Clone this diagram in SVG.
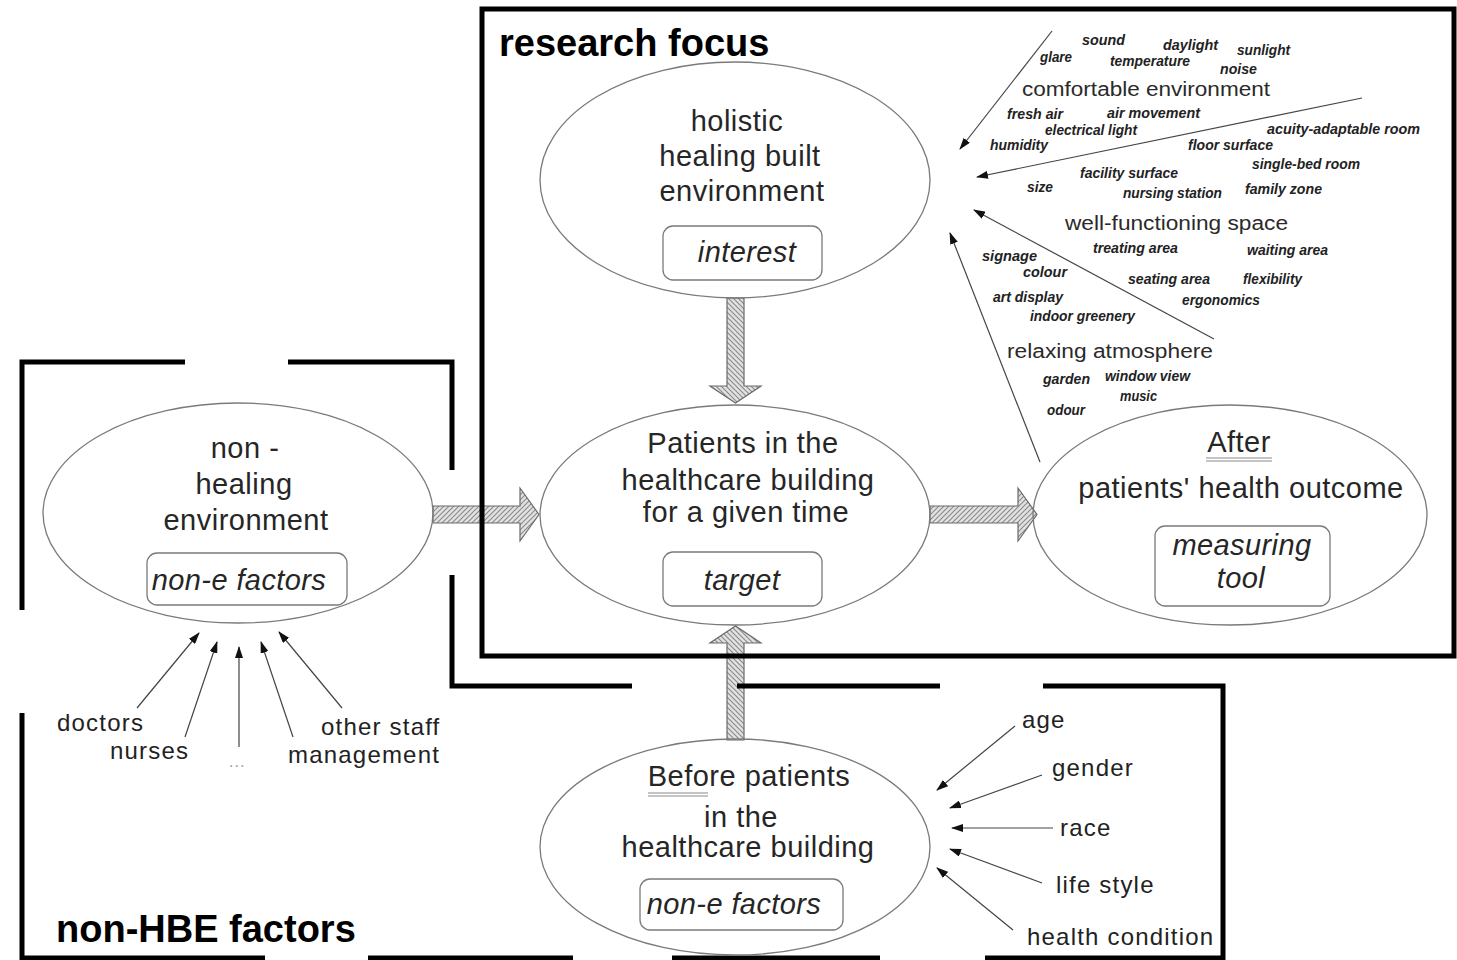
<svg xmlns="http://www.w3.org/2000/svg" width="1457" height="960" viewBox="0 0 1457 960">
  <defs>
    <style>
      text { font-family: "Liberation Sans", Arial, sans-serif; fill: #1c1c1c; }
      .t { font-size: 29px; letter-spacing: 0.5px; text-anchor: middle; fill: #262626; }
      .it { font-size: 29px; font-style: italic; letter-spacing: 0.4px; text-anchor: middle; fill: #262626; }
      .lb { font-size: 24px; letter-spacing: 1.2px; fill: #222; }
      .title { font-size: 38px; font-weight: bold; fill: #000; }
      .w { font-size: 14px; font-style: italic; font-weight: bold; fill: #222; }
      .big { font-size: 20px; fill: #2a2a2a; }
      .ell { fill: none; stroke: #7a7a7a; stroke-width: 1.3; }
      .box { fill: none; stroke: #7a7a7a; stroke-width: 1.3; }
      .frame { fill: none; stroke: #000; stroke-width: 5; }
      .thin { fill: none; stroke: #444; stroke-width: 1.2; marker-end: url(#head); }
      .block { stroke: #6a6a6a; stroke-width: 1.2; }
      .ul { stroke: #8a8a8a; stroke-width: 1.2; }
    </style>
    <marker id="head" viewBox="0 0 12 8" refX="11" refY="4" markerWidth="12" markerHeight="8" markerUnits="userSpaceOnUse" orient="auto">
      <path d="M0,0 L12,4 L0,8 z" fill="#111"/>
    </marker>
    <pattern id="hatchV" patternUnits="userSpaceOnUse" width="5" height="5">
      <rect width="5" height="5" fill="#e2e2e2"/>
      <path d="M-1,-1 L6,6 M-1,4 L1,6 M4,-1 L6,1" stroke="#8c8c8c" stroke-width="1.2"/>
    </pattern>
    <pattern id="hatchH" patternUnits="userSpaceOnUse" width="5" height="5">
      <rect width="5" height="5" fill="#e2e2e2"/>
      <path d="M-1,6 L6,-1 M-1,1 L1,-1 M4,6 L6,4" stroke="#8c8c8c" stroke-width="1.2"/>
    </pattern>
  </defs>

  <rect width="1457" height="960" fill="#fff"/>

  <!-- connectors: block arrows between the stages and thin factor arrows -->
  <g id="connectors">
    <polygon class="block" fill="url(#hatchV)" points="727,298 744,298 744,386 761,386 735.5,403 710,386 727,386"/>
    <polygon class="block" fill="url(#hatchV)" points="727,740 744,740 744,643 761,643 735.5,626 710,643 727,643"/>
    <polygon class="block" fill="url(#hatchH)" points="433,506 520,506 520,488 539,514.5 520,541 520,523 433,523"/>
    <polygon class="block" fill="url(#hatchH)" points="930,506 1018,506 1018,488 1037,514.5 1018,541 1018,523 930,523"/>

    <!-- staff influences -->
    <line class="thin" x1="137" y1="708" x2="199" y2="633"/>
    <line class="thin" x1="185" y1="737" x2="217" y2="642"/>
    <line class="thin" x1="239" y1="747" x2="239" y2="647"/>
    <line class="thin" x1="293" y1="737" x2="261" y2="642"/>
    <line class="thin" x1="342" y1="708" x2="279" y2="632"/>

    <!-- personal influences -->
    <line class="thin" x1="1015" y1="726" x2="937" y2="790"/>
    <line class="thin" x1="1042" y1="775" x2="950" y2="808"/>
    <line class="thin" x1="1053" y1="828" x2="952" y2="828"/>
    <line class="thin" x1="1042" y1="883" x2="950" y2="849"/>
    <line class="thin" x1="1013" y1="930" x2="937" y2="868"/>

    <!-- environment themes -->
    <line class="thin" x1="1052" y1="31" x2="960" y2="149"/>
    <line class="thin" x1="1362" y1="98" x2="977" y2="177"/>
    <line class="thin" x1="1214" y1="339" x2="974" y2="210"/>
    <line class="thin" x1="1040" y1="462" x2="950" y2="233"/>
  </g>

  <!-- frames -->
  <g id="frame-research">
    <rect class="frame" x="482" y="9" width="972" height="647"/>
    <text class="title" x="499" y="56">research focus</text>
  </g>
  <g id="frame-nonhbe">
    <path class="frame" d="M22,610 V362 H185 M288,362 H452 V470 M452,575 V686 H632 M737,686 H940 M1043,686 H1223 V958 H985 M880,958 H672 M573,958 H368 M265,958 H22 V713"/>
    <text class="title" x="56" y="942">non-HBE factors</text>
  </g>

  <!-- stage nodes -->
  <g id="node-hbe">
    <ellipse class="ell" cx="735" cy="180" rx="195" ry="118"/>
    <text class="t" x="737" y="131">holistic</text>
    <text class="t" x="740" y="166">healing built</text>
    <text class="t" x="742" y="201">environment</text>
    <rect class="box" x="663" y="226" width="159" height="54" rx="10"/>
    <text class="it" x="747" y="262">interest</text>
  </g>

  <g id="node-patients">
    <ellipse class="ell" cx="735" cy="515" rx="195" ry="110"/>
    <text class="t" x="743" y="453">Patients in the</text>
    <text class="t" x="748" y="490">healthcare building</text>
    <text class="t" x="746" y="522">for a given time</text>
    <rect class="box" x="663" y="552" width="159" height="54" rx="10"/>
    <text class="it" x="742" y="590">target</text>
  </g>

  <g id="node-after">
    <ellipse class="ell" cx="1230" cy="515" rx="197" ry="110"/>
    <text class="t" x="1239" y="452">After</text>
    <line class="ul" x1="1206" y1="458" x2="1272" y2="458"/>
    <line class="ul" x1="1206" y1="461" x2="1272" y2="461"/>
    <text class="t" x="1241" y="498">patients' health outcome</text>
    <rect class="box" x="1155" y="526" width="175" height="80" rx="10"/>
    <text class="it" x="1242" y="555">measuring</text>
    <text class="it" x="1241" y="588">tool</text>
  </g>

  <g id="node-nonhealing">
    <ellipse class="ell" cx="238" cy="513" rx="195" ry="110"/>
    <text class="t" x="245" y="458">non -</text>
    <text class="t" x="244" y="494">healing</text>
    <text class="t" x="246" y="530">environment</text>
    <rect class="box" x="147" y="553" width="200" height="52" rx="10"/>
    <text class="it" x="239" y="590">non-e factors</text>
  </g>

  <g id="node-before">
    <ellipse class="ell" cx="735" cy="847" rx="195" ry="108"/>
    <text class="t" x="749" y="786">Before patients</text>
    <line class="ul" x1="648" y1="793" x2="708" y2="793"/>
    <line class="ul" x1="648" y1="796" x2="708" y2="796"/>
    <text class="t" x="741" y="827">in the</text>
    <text class="t" x="748" y="857">healthcare building</text>
    <rect class="box" x="640" y="879" width="203" height="51" rx="10"/>
    <text class="it" x="734" y="914">non-e factors</text>
  </g>

  <!-- staff labels -->
  <g id="labels-staff">
    <text class="lb" x="57" y="731">doctors</text>
    <text class="lb" x="110" y="759">nurses</text>
    <text x="229" y="767" style="font-size:16px;fill:#999;letter-spacing:1px">...</text>
    <text class="lb" x="321" y="735">other staff</text>
    <text class="lb" x="288" y="763">management</text>
  </g>

  <!-- personal labels -->
  <g id="labels-personal">
    <text class="lb" x="1022" y="728">age</text>
    <text class="lb" x="1052" y="776">gender</text>
    <text class="lb" x="1060" y="836">race</text>
    <text class="lb" x="1056" y="893">life style</text>
    <text class="lb" x="1027" y="945">health condition</text>
  </g>

  <!-- environment word cloud -->
  <g id="cloud-comfort">
    <text class="w" x="1082" y="45" textLength="43" lengthAdjust="spacingAndGlyphs">sound</text>
    <text class="w" x="1163" y="50" textLength="55" lengthAdjust="spacingAndGlyphs">daylight</text>
    <text class="w" x="1040" y="62" textLength="32" lengthAdjust="spacingAndGlyphs">glare</text>
    <text class="w" x="1110" y="66" textLength="80" lengthAdjust="spacingAndGlyphs">temperature</text>
    <text class="w" x="1237" y="55" textLength="53" lengthAdjust="spacingAndGlyphs">sunlight</text>
    <text class="w" x="1220" y="74" textLength="37" lengthAdjust="spacingAndGlyphs">noise</text>
    <text class="big" x="1022" y="96" textLength="248" lengthAdjust="spacingAndGlyphs">comfortable environment</text>
    <text class="w" x="1007" y="119" textLength="56" lengthAdjust="spacingAndGlyphs">fresh air</text>
    <text class="w" x="1107" y="118" textLength="93" lengthAdjust="spacingAndGlyphs">air movement</text>
    <text class="w" x="1045" y="135" textLength="92" lengthAdjust="spacingAndGlyphs">electrical light</text>
    <text class="w" x="990" y="150" textLength="58" lengthAdjust="spacingAndGlyphs">humidity</text>
  </g>
  <g id="cloud-space">
    <text class="w" x="1267" y="134" textLength="153" lengthAdjust="spacingAndGlyphs">acuity-adaptable room</text>
    <text class="w" x="1188" y="150" textLength="85" lengthAdjust="spacingAndGlyphs">floor surface</text>
    <text class="w" x="1252" y="169" textLength="108" lengthAdjust="spacingAndGlyphs">single-bed room</text>
    <text class="w" x="1080" y="178" textLength="98" lengthAdjust="spacingAndGlyphs">facility surface</text>
    <text class="w" x="1027" y="192" textLength="26" lengthAdjust="spacingAndGlyphs">size</text>
    <text class="w" x="1123" y="198" textLength="99" lengthAdjust="spacingAndGlyphs">nursing station</text>
    <text class="w" x="1245" y="194" textLength="77" lengthAdjust="spacingAndGlyphs">family zone</text>
    <text class="big" x="1065" y="230" textLength="223" lengthAdjust="spacingAndGlyphs">well-functioning space</text>
    <text class="w" x="1093" y="253" textLength="85" lengthAdjust="spacingAndGlyphs">treating area</text>
    <text class="w" x="1247" y="255" textLength="81" lengthAdjust="spacingAndGlyphs">waiting area</text>
    <text class="w" x="1128" y="284" textLength="82" lengthAdjust="spacingAndGlyphs">seating area</text>
    <text class="w" x="1243" y="284" textLength="59" lengthAdjust="spacingAndGlyphs">flexibility</text>
    <text class="w" x="1182" y="305" textLength="78" lengthAdjust="spacingAndGlyphs">ergonomics</text>
  </g>
  <g id="cloud-atmosphere">
    <text class="w" x="982" y="261" textLength="55" lengthAdjust="spacingAndGlyphs">signage</text>
    <text class="w" x="1023" y="277" textLength="44" lengthAdjust="spacingAndGlyphs">colour</text>
    <text class="w" x="993" y="302" textLength="70" lengthAdjust="spacingAndGlyphs">art display</text>
    <text class="w" x="1030" y="321" textLength="105" lengthAdjust="spacingAndGlyphs">indoor greenery</text>
    <text class="big" x="1007" y="358" textLength="206" lengthAdjust="spacingAndGlyphs">relaxing atmosphere</text>
    <text class="w" x="1043" y="384" textLength="47" lengthAdjust="spacingAndGlyphs">garden</text>
    <text class="w" x="1105" y="381" textLength="85" lengthAdjust="spacingAndGlyphs">window view</text>
    <text class="w" x="1120" y="401" textLength="37" lengthAdjust="spacingAndGlyphs">music</text>
    <text class="w" x="1047" y="415" textLength="38" lengthAdjust="spacingAndGlyphs">odour</text>
  </g>
</svg>
